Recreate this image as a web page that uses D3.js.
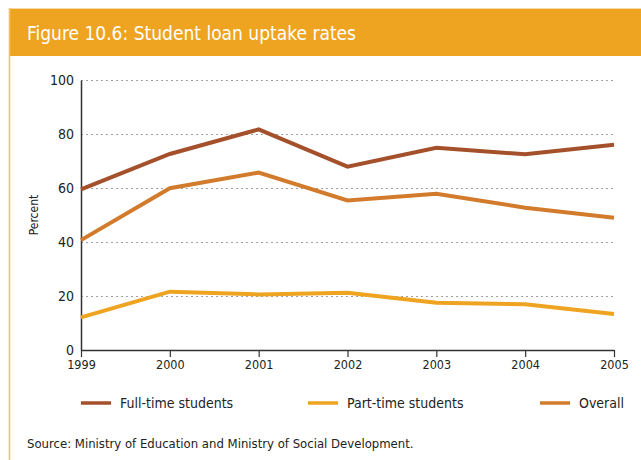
<!DOCTYPE html>
<html>
<head>
<meta charset="utf-8">
<script src="https://cdn.jsdelivr.net/npm/d3@7"></script>
<style>
  html, body { margin: 0; padding: 0; background: #fff; }
  svg { display: block; }
  text { font-family: "Liberation Sans Narrow", "DejaVu Sans Condensed", "Open Sans", sans-serif; }
</style>
</head>
<body>
<svg id="chart" width="641" height="460"></svg>
<script>
// Survey years and uptake rates (percent)
const years = [1999, 2000, 2001, 2002, 2003, 2004, 2005];
const fullTime = [59.5, 72.6, 81.7, 67.9, 74.9, 72.5, 76.0];
const partTime = [12.1, 21.6, 20.6, 21.2, 17.5, 16.9, 13.3];
const overall  = [40.7, 59.9, 65.7, 55.4, 57.9, 52.7, 49.0];
const yTicks = [0, 20, 40, 60, 80, 100];
const seriesNames = ["Full-time students", "Part-time students", "Overall"];
const seriesColors = ["#a4502b", "#eea321", "#d27b2c"];

const series = [fullTime, partTime, overall].map((vals, i) => ({
  name: seriesNames[i], color: seriesColors[i],
  points: years.map((yr, j) => ({ year: yr, value: vals[j] }))
}));

const svg = d3.select("#chart");

// Header band and left rule
svg.append("rect").attr("x", 9).attr("y", 8).attr("width", 632).attr("height", 48)
  .attr("fill", "#eea321");
svg.append("line").attr("x1", 9).attr("x2", 641).attr("y1", 8.5).attr("y2", 8.5)
  .attr("stroke", "#f8d9a8").attr("stroke-width", 1);
svg.append("line").attr("x1", 9.5).attr("x2", 9.5).attr("y1", 8).attr("y2", 460)
  .attr("stroke", "#f3c068").attr("stroke-width", 1.6);
svg.append("text").attr("x", 27).attr("y", 40)
  .attr("fill", "#fff").attr("font-size", 19)
  .text("Figure 10.6: Student loan uptake rates");

const x = d3.scaleLinear().domain([1999, 2005]).range([81, 614]);
const y = d3.scaleLinear().domain([0, 100]).range([350, 80]);

// Dotted gridlines
svg.append("g").selectAll("line").data(yTicks.filter(d => d > 0)).join("line")
  .attr("x1", x(1999)).attr("x2", x(2005))
  .attr("y1", d => y(d) + 0.5).attr("y2", d => y(d) + 0.5)
  .attr("stroke", "#a0a0a0").attr("stroke-width", 1).attr("stroke-dasharray", "2,3");

// Y axis
const yAxis = svg.append("g").attr("transform", `translate(${x(1999)},0)`)
  .call(d3.axisLeft(y).tickValues(yTicks).tickSize(0).tickPadding(7));
yAxis.select(".domain").attr("stroke", "#333").attr("stroke-width", 1.5);
yAxis.selectAll("text").attr("font-size", 14).attr("fill", "#222")
  .style("font-family", "'Liberation Sans Narrow', 'DejaVu Sans Condensed', sans-serif");

// X axis
const xAxis = svg.append("g").attr("transform", `translate(0,${y(0)})`)
  .call(d3.axisBottom(x).tickValues(years).tickFormat(d3.format("d")).tickSize(7).tickSizeOuter(0).tickPadding(3));
xAxis.select(".domain").attr("stroke", "#333").attr("stroke-width", 1.5);
xAxis.selectAll(".tick line").attr("stroke", "#333").attr("stroke-width", 1.2);
xAxis.selectAll("text").attr("font-size", 12.5).attr("fill", "#222")
  .style("font-family", "'Liberation Sans Narrow', 'DejaVu Sans Condensed', sans-serif");

svg.append("text")
  .attr("transform", `translate(38,${y(50)}) rotate(-90)`)
  .attr("text-anchor", "middle").attr("font-size", 12).attr("fill", "#222")
  .text("Percent");

// Series lines
const line = d3.line().x(d => x(d.year)).y(d => y(d.value));
svg.append("g").selectAll("path").data(series).join("path")
  .attr("d", d => line(d.points))
  .attr("fill", "none").attr("stroke", d => d.color)
  .attr("stroke-width", 4).attr("stroke-linejoin", "miter");

// Legend
const legendX = [81, 308, 540];
const legend = svg.append("g").selectAll("g").data(series).join("g")
  .attr("transform", (d, i) => `translate(${legendX[i]},403)`);
legend.append("line").attr("x1", 0).attr("x2", 30).attr("y1", 0).attr("y2", 0)
  .attr("stroke", d => d.color).attr("stroke-width", 3.5);
legend.append("text").attr("x", 39).attr("y", 5).attr("font-size", 14).attr("fill", "#222")
  .text(d => d.name);

svg.append("text").attr("x", 27).attr("y", 448).attr("font-size", 13).attr("fill", "#222")
  .text("Source: Ministry of Education and Ministry of Social Development.");
</script>
</body>
</html>
